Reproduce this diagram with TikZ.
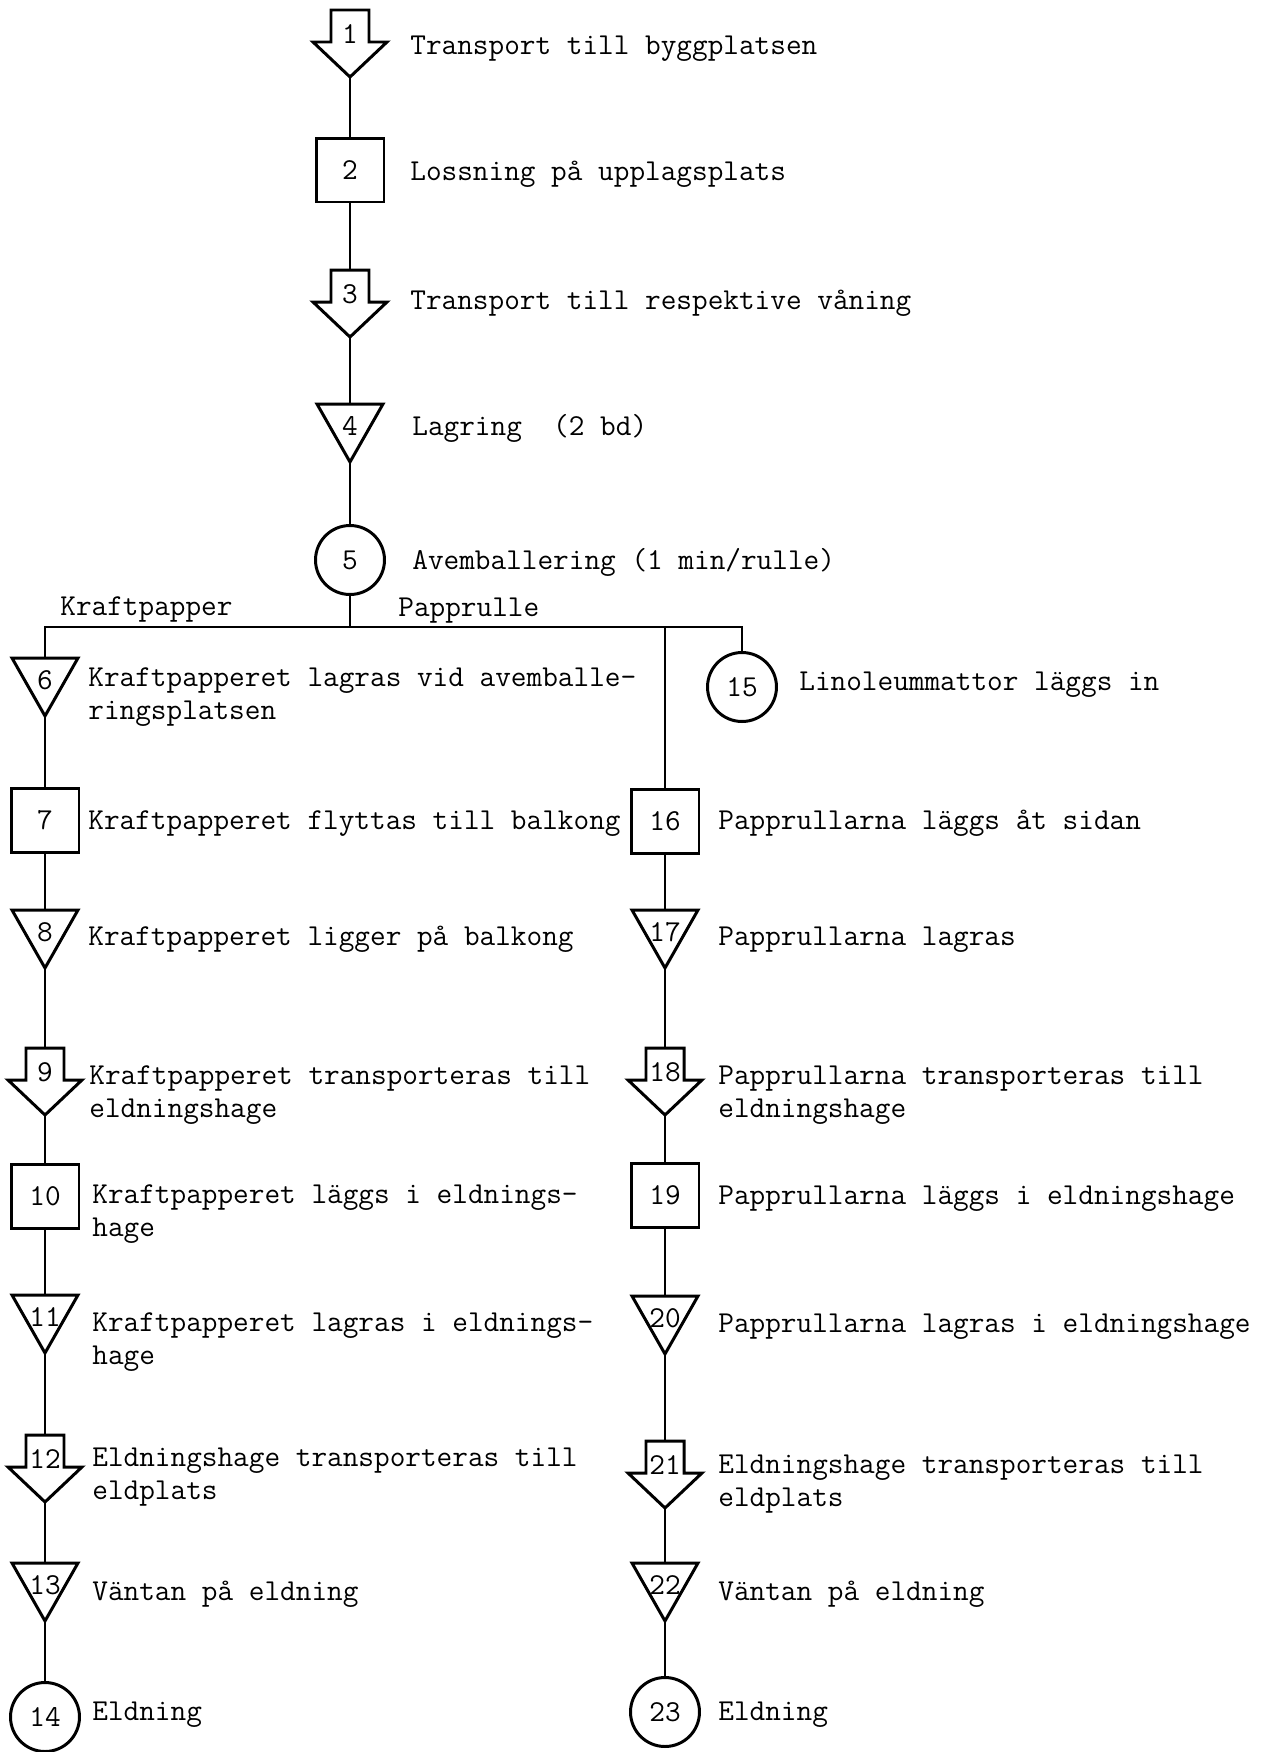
\documentclass[tikz,border=0pt]{standalone}
\usepackage{fontspec}
\usepackage{tikz}

\newcommand{\steptext}{\fontsize{17.3}{18.6}\selectfont\ttfamily}

\tikzset{
  symb/.style={line width=1.7pt,line join=miter},
  link/.style={line width=1.1pt},
  num/.style={font=\steptext,inner sep=0pt},
  desc/.style={font=\steptext,anchor=base west,align=left,inner sep=0pt},
  opbox/.style={symb,draw,rectangle,minimum width=1.36cm,minimum height=1.28cm,inner sep=0pt,font=\steptext},
  opcirc/.style={symb,draw,circle,minimum size=1.38cm,inner sep=0pt,font=\steptext},
  pics/transp/.style={code={
    \draw[symb] (-19,0) -- (19,0) -- (19,32) -- (37,32) -- (0,67) -- (-37,32) -- (-19,32) -- cycle;
    \node[num] (-lbl) at (0,24) {#1};
    \coordinate (-n) at (0,0);
    \coordinate (-s) at (0,67);
  }},
  pics/store/.style={code={
    \draw[symb] (-33,0) -- (33,0) -- (0,58) -- cycle;
    \node[num] (-lbl) at (0,22) {#1};
    \coordinate (-n) at (0,0);
    \coordinate (-s) at (0,58);
  }}
}

\begin{document}
\begin{tikzpicture}[x=0.02cm,y=-0.02cm]
  \path[fill=white,use as bounding box] (0,0) rectangle (1280,1752);

  %common part
  \pic (s1) at (350,10) {transp=1};
  \node[desc] (t1) at (410,54) {Transport till byggplatsen};
  \node[opbox] (s2) at (350,170) {2};
  \node[desc] (t2) at (410,180) {Lossning på upplagsplats};
  \pic (s3) at (350,270) {transp=3};
  \node[desc] (t3) at (410,309) {Transport till respektive våning};
  \pic (s4) at (350,404) {store=4};
  \node[desc] (t4) at (412,435) {Lagring~~(2 bd)};
  \node[opcirc] (s5) at (350,560) {5};
  \node[desc] (t5) at (412,569) {Avemballering (1 min/rulle)};
  \coordinate (fork) at (350,627);
  \node[desc] (kraft) at (60,615) {Kraftpapper};
  \node[desc] (papp) at (398,616) {Papprulle};

  %left
  \pic (s6) at (45,658) {store=6};
  \node[desc] (t6) at (88,719) {Kraftpapperet lagras vid avemballe-\\ringsplatsen};
  \node[opbox] (s7) at (45,820) {7};
  \node[desc] (t7) at (88,829) {Kraftpapperet flyttas till balkong};
  \pic (s8) at (45,910) {store=8};
  \node[desc] (t8) at (88,945) {Kraftpapperet ligger på balkong};
  \pic (s9) at (45,1048) {transp=9};
  \node[desc] (t9) at (89,1117) {Kraftpapperet transporteras till\\eldningshage};
  \node[opbox] (s10) at (45,1196) {10};
  \node[desc] (t10) at (92,1236) {Kraftpapperet läggs i eldnings-\\hage};
  \pic (s11) at (45,1295) {store=11};
  \node[desc] (t11) at (92,1364) {Kraftpapperet lagras i eldnings-\\hage};
  \pic (s12) at (45,1435) {transp=12};
  \node[desc] (t12) at (92,1499) {Eldningshage transporteras till\\eldplats};
  \pic (s13) at (45,1563) {store=13};
  \node[desc] (t13) at (92,1600) {Väntan på eldning};
  \node[opcirc] (s14) at (45,1717) {14};
  \node[desc] (t14) at (92,1720) {Eldning};

  %right
  \node[opcirc] (s15) at (742,687) {15};
  \node[desc] (t15) at (799,690) {Linoleummattor läggs in};
  \node[opbox] (s16) at (665,821) {16};
  \node[desc] (t16) at (718,829) {Papprullarna läggs åt sidan};
  \pic (s17) at (665,910) {store=17};
  \node[desc] (t17) at (718,945) {Papprullarna lagras};
  \pic (s18) at (665,1048) {transp=18};
  \node[desc] (t18) at (718,1117) {Papprullarna transporteras till\\eldningshage};
  \node[opbox] (s19) at (665,1195) {19};
  \node[desc] (t19) at (718,1204) {Papprullarna läggs i eldningshage};
  \pic (s20) at (665,1296) {store=20};
  \node[desc] (t20) at (718,1332) {Papprullarna lagras i eldningshage};
  \pic (s21) at (665,1441) {transp=21};
  \node[desc] (t21) at (718,1506) {Eldningshage transporteras till\\eldplats};
  \pic (s22) at (665,1563) {store=22};
  \node[desc] (t22) at (718,1600) {Väntan på eldning};
  \node[opcirc] (s23) at (665,1712) {23};
  \node[desc] (t23) at (718,1720) {Eldning};

  %lines
  \draw[link] (s1-s) -- (s2.north) (s2.south) -- (s3-n) (s3-s) -- (s4-n) (s4-s) -- (s5.north);
  \draw[link] (s5.south) -- (fork);
  \draw[link] (s6-n) |- (fork) -| (s15.north);
  \draw[link] (s16.north) -- (s16.north |- fork);
  \draw[link] (s6-s) -- (s7.north) (s7.south) -- (s8-n) (s8-s) -- (s9-n) (s9-s) -- (s10.north)
    (s10.south) -- (s11-n) (s11-s) -- (s12-n) (s12-s) -- (s13-n) (s13-s) -- (s14.north);
  \draw[link] (s16.south) -- (s17-n) (s17-s) -- (s18-n) (s18-s) -- (s19.north)
    (s19.south) -- (s20-n) (s20-s) -- (s21-n) (s21-s) -- (s22-n) (s22-s) -- (s23.north);
\end{tikzpicture}
\end{document}
